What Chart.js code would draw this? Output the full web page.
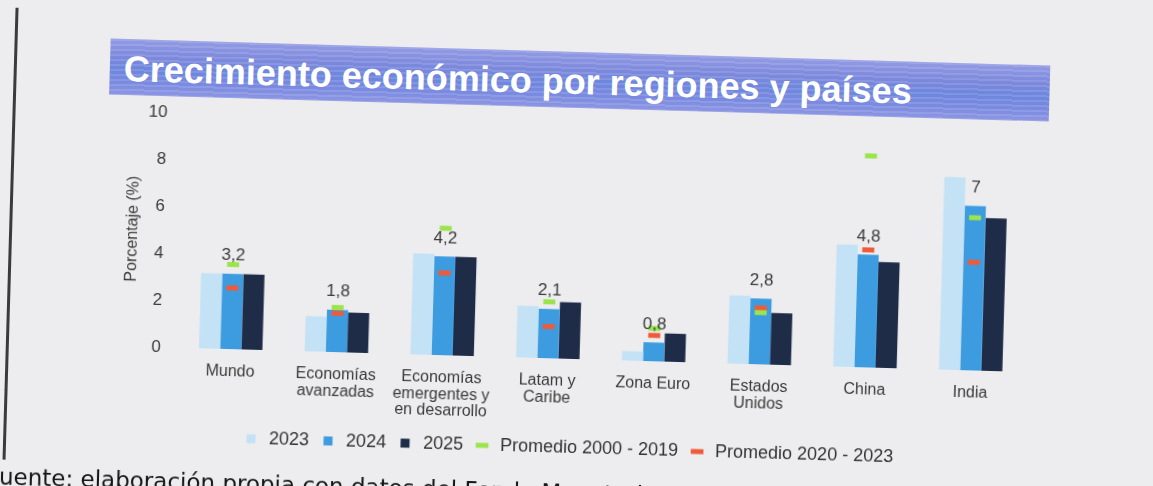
<!DOCTYPE html>
<html lang="es">
<head>
<meta charset="utf-8">
<title>Crecimiento económico por regiones y países</title>
<script src="https://cdn.jsdelivr.net/npm/chart.js@4.4.1/dist/chart.umd.min.js"></script>
<style>
  html, body { margin: 0; padding: 0; width: 1153px; height: 486px; overflow: hidden; background: #ededef; }
  #page { position: absolute; left: 0; top: 0; width: 1153px; height: 486px;
          transform: rotate(1.65deg); transform-origin: 576px 243px; }
  #borde { position: absolute; left: 9px; top: 24px; width: 3px; height: 452px; background: #3b3b3e; }
  #banda { position: absolute; left: 105px; top: 52px; width: 940px; height: 56px;
           background:
             repeating-linear-gradient(to bottom, rgba(255,255,255,0.12) 0px, rgba(255,255,255,0.12) 2px, rgba(0,0,0,0) 2px, rgba(0,0,0,0) 5px),
             linear-gradient(to bottom, #929be4 0%, #7d89dc 30%, #6d86de 55%, #7a8ae0 78%, #8c96e3 100%); }
  #banda h1 { margin: 0; padding-left: 14px; font: bold 36px "Liberation Sans", Arial, sans-serif;
              color: #ffffff; line-height: 60px; white-space: nowrap; }
  #grafico { position: absolute; left: 0; top: 0; }
  #fuente { position: absolute; left: 6px; top: 480px; font: 23px "DejaVu Sans", sans-serif;
            color: #151515; line-height: 26px; white-space: nowrap; }
</style>
</head>
<body>
<div id="page">
  <div id="borde"></div>
  <div id="banda"><h1>Crecimiento económico por regiones y países</h1></div>
  <canvas id="grafico" width="1153" height="486"></canvas>
  <div id="fuente">uente: elaboración propia con datos del Fondo Monetario Internacional</div>
</div>
<script>
const regiones = [
  "Mundo",
  ["Economías", "avanzadas"],
  ["Economías", "emergentes y", "en desarrollo"],
  ["Latam y", "Caribe"],
  "Zona Euro",
  ["Estados", "Unidos"],
  "China",
  "India"
];
const crec2023 = [3.2, 1.5, 4.3, 2.2, 0.4, 2.9, 5.2, 8.2];
const crec2024 = [3.2, 1.8, 4.2, 2.1, 0.8, 2.8, 4.8, 7];
const crec2025 = [3.2, 1.7, 4.2, 2.4, 1.2, 2.2, 4.5, 6.5];
const promedio2000_2019 = [3.6, 1.9, 5.4, 2.4, 1.4, 2.2, 9.0, 6.5];
const promedio2020_2023 = [2.6, 1.65, 3.5, 1.35, 1.1, 2.4, 5.0, 4.6];
const ticksY = [0, 2, 4, 6, 8, 10];

const fuente = '"Liberation Sans", Arial, sans-serif';
Chart.defaults.font.family = fuente;
Chart.defaults.color = "#3a3a3a";

// etiquetas de valor sobre las barras de 2024
const etiquetas = {
  id: "etiquetas",
  afterDatasetsDraw(chart) {
    const meta = chart.getDatasetMeta(1);
    const ctx = chart.ctx;
    ctx.save();
    ctx.font = "17px " + fuente;
    ctx.fillStyle = "#3a3a3a";
    ctx.textAlign = "center";
    ctx.textBaseline = "middle";
    meta.data.forEach((bar, i) => {
      ctx.fillText(String(crec2024[i]).replace(".", ","), bar.x, bar.y - 18);
    });
    ctx.restore();
  }
};

const ctx = document.getElementById("grafico").getContext("2d");
new Chart(ctx, {
  type: "bar",
  data: {
    labels: regiones,
    datasets: [
      { label: "2023", data: crec2023, backgroundColor: "#c3e2f5", pointStyle: "rect", order: 2 },
      { label: "2024", data: crec2024, backgroundColor: "#3d9be0", pointStyle: "rect", order: 2 },
      { label: "2025", data: crec2025, backgroundColor: "#1f2c47", pointStyle: "rect", order: 2 },
      {
        type: "line", label: "Promedio 2000 - 2019", data: promedio2000_2019,
        showLine: false, pointStyle: "line", pointRadius: 6, pointBorderWidth: 5,
        borderColor: "#9ae44c", pointBorderColor: "#9ae44c", backgroundColor: "#9ae44c", order: 1
      },
      {
        type: "line", label: "Promedio 2020 - 2023", data: promedio2020_2023,
        showLine: false, pointStyle: "line", pointRadius: 6, pointBorderWidth: 5,
        borderColor: "#ef5b38", pointBorderColor: "#ef5b38", backgroundColor: "#ef5b38", order: 1
      }
    ]
  },
  options: {
    responsive: false,
    animation: false,
    events: [],
    layout: { padding: { left: 120, right: 126, top: 124, bottom: 19 } },
    datasets: { bar: { categoryPercentage: 0.6, barPercentage: 1.0 } },
    scales: {
      x: {
        grid: { display: false },
        border: { display: false },
        ticks: { font: { size: 16, lineHeight: 1.05 }, color: "#3a3a3a", padding: 6, maxRotation: 0, autoSkip: false },
        afterFit: (s) => { s.height = 70; }
      },
      y: {
        min: 0, max: 10,
        afterBuildTicks: (s) => { s.ticks = ticksY.map(v => ({ value: v })); },
        grid: { display: false },
        border: { display: false },
        ticks: { font: { size: 17 }, color: "#3a3a3a", padding: 9 },
        title: { display: true, text: "Porcentaje (%)", font: { size: 16 }, color: "#3a3a3a", padding: { top: 3, bottom: 0 } },
        afterFit: (s) => { s.width = 61; }
      }
    },
    plugins: {
      legend: {
        position: "bottom",
        labels: {
          usePointStyle: true,
          boxHeight: 9,
          padding: 10,
          font: { size: 18 },
          color: "#333333",
          sort: (a, b) => a.datasetIndex - b.datasetIndex
        }
      },
      tooltip: { enabled: false }
    }
  },
  plugins: [etiquetas]
});
</script>
</body>
</html>
